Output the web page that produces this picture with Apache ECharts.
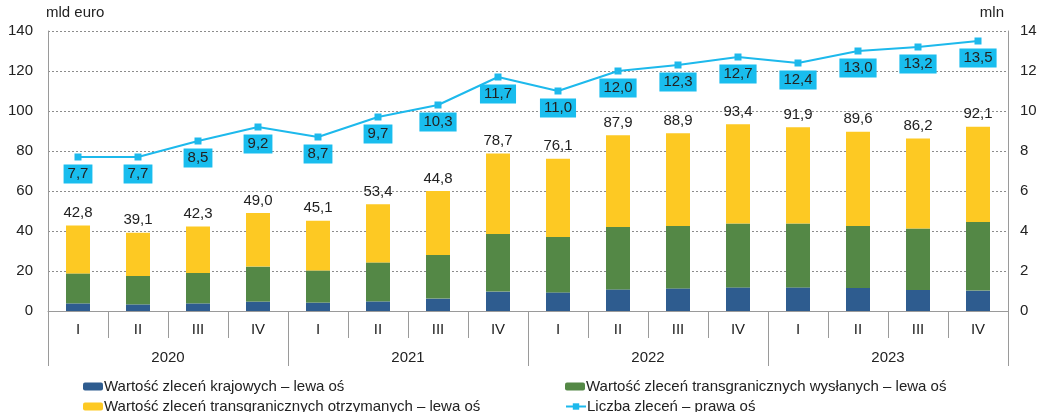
<!DOCTYPE html>
<html>
<head>
<meta charset="utf-8">
<script src="https://cdn.jsdelivr.net/npm/echarts@6/dist/echarts.min.js"></script>
<style>
html, body { margin: 0; padding: 0; background: #fff; }
#main { width: 1040px; height: 412px; }
</style>
</head>
<body>
<div id="main"></div>
<script>
var quarters = ['I', 'II', 'III', 'IV', 'I', 'II', 'III', 'IV', 'I', 'II', 'III', 'IV', 'I', 'II', 'III', 'IV'];
var years = ['2020', '2021', '2022', '2023'];

// stacked parts (mld euro)
var krajowe = [3.8, 3.3, 3.8, 4.7, 4.2, 4.8, 6.2, 9.7, 9.3, 10.8, 11.3, 11.8, 11.8, 11.5, 10.5, 10.2];
var wyslane = [15.0, 14.2, 15.2, 17.5, 16.1, 19.5, 21.8, 28.8, 27.7, 31.2, 31.2, 31.9, 31.9, 31.0, 30.8, 34.3];
var otrzymane = [23.9, 21.6, 23.3, 26.8, 24.8, 29.1, 32.0, 40.2, 39.1, 45.9, 46.4, 49.7, 48.2, 47.1, 44.9, 47.6];
// totals as printed above the bars
var sumy = [42.8, 39.1, 42.3, 49.0, 45.1, 53.4, 44.8, 78.7, 76.1, 87.9, 88.9, 93.4, 91.9, 89.6, 86.2, 92.1];
// number of orders (mln)
var liczba = [7.7, 7.7, 8.5, 9.2, 8.7, 9.7, 10.3, 11.7, 11.0, 12.0, 12.3, 12.7, 12.4, 13.0, 13.2, 13.5];

var leftTicks = { min: 0, max: 140, interval: 20 };
var rightTicks = { min: 0, max: 14, interval: 2 };

var names = [
    'Wartość zleceń krajowych – lewa oś',
    'Wartość zleceń transgranicznych wysłanych – lewa oś',
    'Wartość zleceń transgranicznych otrzymanych – lewa oś',
    'Liczba zleceń – prawa oś'
];

function pl(v) { return v.toFixed(1).replace('.', ','); }

var font = 'Liberation Sans, Arial, sans-serif';
var txt = '#222';
var gray = '#9a9a9a';

function leg(name, left, top) {
    return {
        left: left, top: top, itemWidth: 20, itemHeight: 8, itemGap: 0,
        padding: 0,
        textStyle: { fontSize: 15, color: txt, fontFamily: font, padding: [0, 0, 0, -4] },
        data: [name]
    };
}

var myChart = echarts.init(document.getElementById('main'));
myChart.setOption({
    animation: false,
    textStyle: { fontFamily: font },
    grid: { left: 48, right: 32, top: 31, bottom: 101, containLabel: false },
    legend: [
        leg(names[0], 83, 379),
        leg(names[1], 565, 379),
        leg(names[2], 83, 399),
        leg(names[3], 565, 399)
    ],
    xAxis: [
        {
            type: 'category',
            data: quarters,
            axisLine: { lineStyle: { color: gray } },
            axisTick: { show: true, interval: 0, length: 27, lineStyle: { color: gray } },
            axisLabel: { color: txt, fontSize: 15, margin: 11, interval: 0 }
        },
        {
            // year row: separators run from the axis down through both rows
            type: 'category',
            data: years,
            position: 'bottom',
            offset: 27,
            axisLine: { show: false },
            axisTick: { show: true, interval: 0, length: 55, lineStyle: { color: gray } },
            axisLabel: { color: txt, fontSize: 15, margin: 12 }
        }
    ],
    yAxis: [
        {
            type: 'value',
            min: leftTicks.min, max: leftTicks.max, interval: leftTicks.interval,
            name: 'mld euro',
            nameGap: 11,
            nameTextStyle: { color: txt, fontSize: 15, align: 'left', padding: [0, 0, 0, -2] },
            axisLine: { show: true, lineStyle: { color: gray } },
            axisTick: { show: false },
            axisLabel: { color: txt, fontSize: 15, margin: 15 },
            splitLine: { lineStyle: { color: '#8c8c8c', type: [2, 2] } }
        },
        {
            type: 'value',
            min: rightTicks.min, max: rightTicks.max, interval: rightTicks.interval,
            name: 'mln',
            nameGap: 11,
            nameTextStyle: { color: txt, fontSize: 15, align: 'right', padding: [0, 4, 0, 0] },
            axisLine: { show: true, lineStyle: { color: gray } },
            axisTick: { show: false },
            axisLabel: { color: txt, fontSize: 15, margin: 12 },
            splitLine: { show: false }
        }
    ],
    series: [
        { name: names[0], type: 'bar', stack: 'w', barWidth: 24, itemStyle: { color: '#2e5c8f' }, data: krajowe },
        { name: names[1], type: 'bar', stack: 'w', barWidth: 24, itemStyle: { color: '#548846' }, data: wyslane },
        {
            name: names[2], type: 'bar', stack: 'w', barWidth: 24, itemStyle: { color: '#fdc923' },
            label: { show: true, position: 'top', distance: 5, color: txt, fontSize: 15,
                formatter: function (p) { return pl(sumy[p.dataIndex]); } },
            data: otrzymane
        },
        {
            name: names[3], type: 'line', yAxisIndex: 1, symbol: 'rect', symbolSize: 7,
            lineStyle: { color: '#1db9ec', width: 2 }, itemStyle: { color: '#1db9ec' },
            label: { show: true, position: 'bottom', distance: 4, color: txt, fontSize: 15, lineHeight: 17,
                backgroundColor: '#19bdee', padding: [1, 4, 1, 4],
                formatter: function (p) { return pl(p.value); } },
            z: 5, data: liczba
        }
    ]
});
</script>
</body>
</html>
